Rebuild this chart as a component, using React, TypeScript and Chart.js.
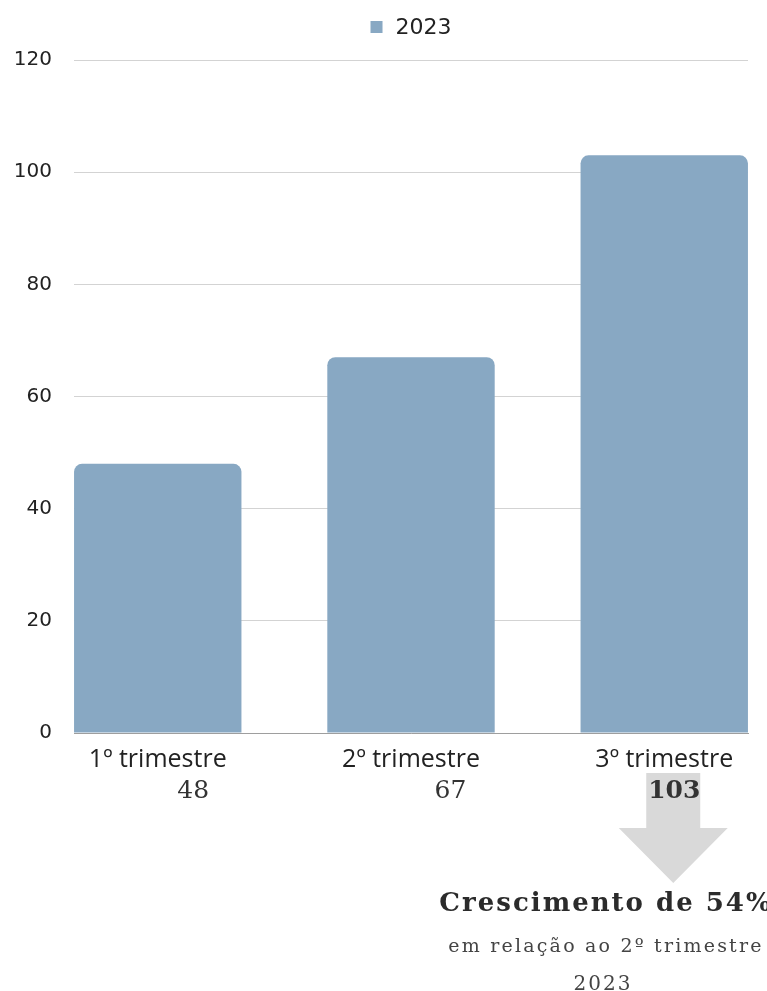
import React, { useEffect, useRef } from 'react';
import { Chart, registerables } from 'chart.js';

Chart.register(...registerables);

const categories = ['1º trimestre', '2º trimestre', '3º trimestre'];
const seriesLabel = '2023';
const values2023 = [48, 67, 103];
const valueLabels = ['48', '67', '103'];
const highlightIndex = 2;
const noteTitle = 'Crescimento de 54%';
const noteLines = ['em relação ao 2º trimestre', '2023'];

const BAR_COLOR = '#88a8c3';
const SERIF = '"DejaVu Serif", serif';
const X_MIN = -0.3307;
const X_MAX = 2.3307;

const annotPlugin = {
  id: 'annot',
  afterDraw(chart: any) {
    const ctx = chart.ctx as CanvasRenderingContext2D;
    const area = chart.chartArea;
    const meta = chart.getDatasetMeta(0);
    ctx.save();

    // legend (centered over chart area)
    ctx.font = '22px "DejaVu Sans", sans-serif';
    const tw = ctx.measureText(seriesLabel).width;
    const box = 12;
    const gap = 13;
    const total = box + gap + tw;
    const lx = (area.left + area.right) / 2 - total / 2;
    const ly = 27;
    ctx.fillStyle = BAR_COLOR;
    ctx.fillRect(lx, ly - box / 2, box, box);
    ctx.fillStyle = '#222';
    ctx.textAlign = 'left';
    ctx.textBaseline = 'middle';
    ctx.fillText(seriesLabel, lx + box + gap, ly + 1);

    // arrow under highlighted bar
    const hb = meta.data[highlightIndex];
    const ax = hb.x + 9;
    const b = area.bottom;
    ctx.fillStyle = '#d9d9d9';
    ctx.beginPath();
    ctx.moveTo(ax - 27, b + 40);
    ctx.lineTo(ax + 27, b + 40);
    ctx.lineTo(ax + 27, b + 95);
    ctx.lineTo(ax + 54.5, b + 95);
    ctx.lineTo(ax, b + 150);
    ctx.lineTo(ax - 54.5, b + 95);
    ctx.lineTo(ax - 27, b + 95);
    ctx.closePath();
    ctx.fill();

    // value labels
    const offsets = [35.5, 39.5, 10];
    ctx.fillStyle = '#333';
    ctx.textAlign = 'center';
    ctx.textBaseline = 'middle';
    valueLabels.forEach((v, i) => {
      const el = meta.data[i];
      ctx.font = (i === highlightIndex ? 'bold ' : '') + '25px ' + SERIF;
      ctx.fillText(v, el.x + offsets[i], b + 58);
    });

    // note text
    const cx = area.right - 142;
    (ctx as any).letterSpacing = '2px';
    ctx.fillStyle = '#2b2b2b';
    ctx.font = 'bold 26px ' + SERIF;
    ctx.textBaseline = 'alphabetic';
    ctx.fillText(noteTitle, cx, b + 178);
    ctx.fillStyle = '#444';
    (ctx as any).letterSpacing = '2.2px';
    ctx.font = '19px ' + SERIF;
    ctx.fillText(noteLines[0], cx, b + 219);
    (ctx as any).letterSpacing = '2px';
    ctx.font = '20px ' + SERIF;
    ctx.fillText(noteLines[1], cx - 3, b + 257);
    ctx.restore();
  },
};

export default function App() {
  const ref = useRef<HTMLCanvasElement | null>(null);

  useEffect(() => {
    document.body.style.margin = '0';
    const canvas = ref.current;
    if (!canvas) return;
    const chart = new Chart(canvas, {
      type: 'bar',
      data: {
        datasets: [
          {
            label: seriesLabel,
            data: values2023.map((v, i) => ({ x: i, y: v })),
            backgroundColor: BAR_COLOR,
            borderRadius: 8,
            borderSkipped: 'start',
            categoryPercentage: 0.661,
            barPercentage: 1,
          },
        ],
      },
      options: {
        animation: false,
        responsive: true,
        maintainAspectRatio: false,
        layout: { padding: { top: 60, right: 19, left: 0, bottom: 0 } },
        plugins: {
          legend: { display: false },
          tooltip: { enabled: false },
        },
        scales: {
          x: {
            type: 'linear',
            min: X_MIN,
            max: X_MAX,
            bounds: 'data',
            offset: false,
            grid: { display: false, drawTicks: false, offset: false },
            border: { display: true, color: '#9e9e9e', width: 1 },
            afterBuildTicks: (s: any) => {
              s.ticks = categories.map((_, i) => ({ value: i }));
              s.min = X_MIN;
              s.max = X_MAX;
            },
            afterFit: (s: any) => {
              s.height = 258;
            },
            ticks: {
              callback: (v: any) => categories[v as number] ?? '',
              font: { family: '"Open Sans", sans-serif', size: 25 },
              color: '#222',
              padding: 12,
              maxRotation: 0,
              autoSkip: false,
            },
          },
          y: {
            min: 0,
            max: 120,
            ticks: {
              stepSize: 20,
              font: { family: '"DejaVu Sans", sans-serif', size: 20 },
              color: '#222',
              padding: 22,
            },
            grid: { color: '#d3d3d3', lineWidth: 1, drawTicks: false },
            border: { display: false },
            afterFit: (s: any) => {
              s.width = 74;
            },
          },
        },
      },
      plugins: [annotPlugin],
    });
    return () => chart.destroy();
  }, []);

  return (
    <div style={{ position: 'relative', width: '767px', height: '991px' }}>
      <canvas ref={ref} />
    </div>
  );
}
